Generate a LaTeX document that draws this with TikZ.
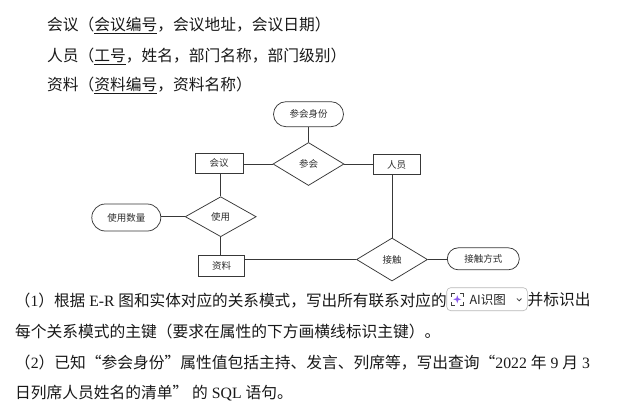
\documentclass[tikz,border=0pt]{standalone}
\usepackage{fontspec}
\setmainfont{Noto Sans CJK SC}
\newfontfamily\lat{Liberation Serif}
\usetikzlibrary{shapes.geometric}
\definecolor{lnc}{gray}{0.22}
\definecolor{aistar}{RGB}{140,90,240}
\tikzset{
  bodytxt/.style={inner sep=0pt, outer sep=0pt, anchor=west, text=black!90, font=\fontsize{15.75}{18}\selectfont},
  dtxt/.style={text=black!82, font=\fontsize{9.5}{11}\selectfont, inner sep=0pt, draw=lnc, line width=0.75pt},
  entbox/.style={dtxt, rectangle},
  relbox/.style={dtxt, diamond, minimum width=71pt, minimum height=43pt},
  attrbox/.style={dtxt, rectangle},
  conn/.style={draw=lnc, line width=0.75pt},
}
\begin{document}
\begin{tikzpicture}[x=1pt,y=-1pt]
\fill[white] (0,0) rectangle (626,408);
\useasboundingbox (0,0) rectangle (626,408);

% top text lines
\node[bodytxt] (t1) at (47,25) {会议（\underline{会议编号}，会议地址，会议日期）};
\node[bodytxt] (t2) at (47,56) {人员（\underline{工号}，姓名，部门名称，部门级别）};
\node[bodytxt] (t3) at (47,85.5) {资料（\underline{资料编号}，资料名称）};

% E-R diagram
\node[attrbox, minimum width=70pt, minimum height=25pt, rounded corners=12.5pt] (sf) at (308.5,114.2) {参会身份};
\node[entbox, minimum width=48pt, minimum height=20pt] (huiyi) at (219,163) {会议};
\node[relbox] (canhui) at (308.5,164) {参会};
\node[entbox, minimum width=47pt, minimum height=20pt] (renyuan) at (396.7,164.5) {人员};
\node[attrbox, minimum width=69pt, minimum height=27pt, rounded corners=13.5pt] (sl) at (126.3,217.5) {使用数量};
\node[relbox, minimum height=40pt] (shiyong) at (220.7,216.7) {使用};
\node[entbox, minimum width=46pt, minimum height=21pt] (ziliao) at (221.5,266.3) {资料};
\node[relbox] (jiechu) at (392,259.5) {接触};
\node[attrbox, minimum width=72pt, minimum height=22pt, rounded corners=11pt] (fs) at (483.3,258.8) {接触方式};

\draw[conn] (sf) -- (canhui);
\draw[conn] (huiyi.east |- canhui.west) -- (canhui.west);
\draw[conn] (canhui.east) -- (renyuan.west |- canhui.east);
\draw[conn] (huiyi.south -| shiyong) -- (shiyong.north);
\draw[conn] (sl.east |- shiyong.west) -- (shiyong.west);
\draw[conn] (shiyong.south) -- (ziliao.north -| shiyong.south);
\draw[conn] (ziliao.east |- jiechu.west) -- (jiechu.west);
\draw[conn] (renyuan.south -| jiechu) -- (jiechu.north);
\draw[conn] (jiechu.east) -- (fs.west |- jiechu.east);

% bottom text
\node[bodytxt] (b1) at (15,301) {\resizebox{431.7pt}{\height}{（{\lat 1}）根据{\lat\ E-R\ }图和实体对应的关系模式，写出所有联系对应的}};
\node[draw=black!28, line width=0.6pt, fill=white, rounded corners=4pt, minimum width=80.6pt, minimum height=23pt, inner sep=0pt] (ai) at (487,299.2) {};
\node[inner sep=0pt, anchor=west, text=black!85, font=\fontsize{12.5}{14}\selectfont] (aitxt) at (469.3,299.5) {AI识图};
\draw[black!75, line width=0.8pt]
  (451.5,296.5) -- (451.5,293.5) -- (454.5,293.5)
  (460,293.5) -- (463,293.5) -- (463,296.5)
  (463,302) -- (463,305) -- (460,305)
  (454.5,305) -- (451.5,305) -- (451.5,302);
\fill[aistar] (457.3,295.3) -- (458.3,298.3) -- (461.3,299.3) -- (458.3,300.3) -- (457.3,303.3) -- (456.3,300.3) -- (453.3,299.3) -- (456.3,298.3) -- cycle;
\draw[black!75, line width=0.8pt] (516.9,298.5) -- (519.2,300.8) -- (521.5,298.5);
\node[bodytxt] (b1e) at (ai.east) {并标识出};
\node[bodytxt] (b2) at (15,331.7) {每个关系模式的主键（要求在属性的下方画横线标识主键）。};
\node[bodytxt] (b3) at (15,362.6) {\resizebox{575pt}{\height}{（{\lat 2}）已知“参会身份”属性值包括主持、发言、列席等，写出查询“{\lat 2022 }年{\lat\ 9 }月{\lat\ 3}}};
\node[bodytxt] (b4) at (15,393) {日列席人员姓名的清单”{\lat\ }的{\lat\ SQL }语句。};
\end{tikzpicture}
\end{document}
